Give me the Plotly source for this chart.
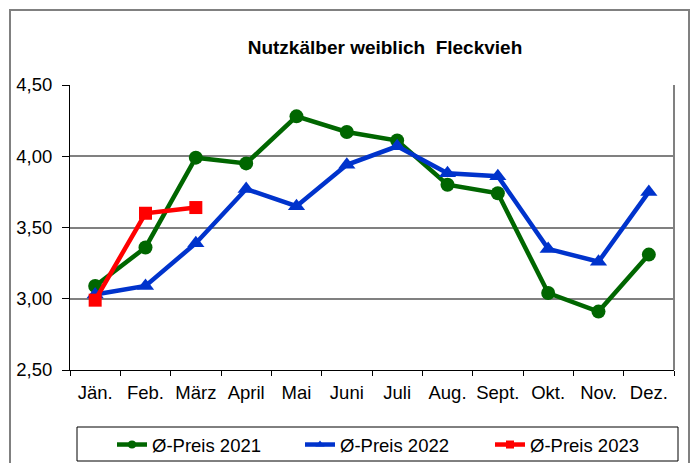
import plotly.graph_objects as go

months = ["Jän.", "Feb.", "März", "April", "Mai", "Juni", "Juli", "Aug.", "Sept.", "Okt.", "Nov.", "Dez."]
preis_2021 = [3.09, 3.36, 3.99, 3.95, 4.28, 4.17, 4.11, 3.80, 3.74, 3.04, 2.91, 3.31]
preis_2022 = [3.03, 3.09, 3.39, 3.77, 3.65, 3.94, 4.07, 3.88, 3.86, 3.35, 3.26, 3.75]
preis_2023 = [2.99, 3.60, 3.64]

FONT = "Liberation Sans, Arial, sans-serif"

# plot area in pixels: x 70..674, y 85..370
PL, PR, PT, PB = 70, 674, 85, 370
def px(x):
    return (x - PL) / (PR - PL)
def py(y):
    return (PB - y) / (PB - PT)

series = [
    ("Ø-Preis 2021", months, preis_2021, "#006600", "circle", 14, "legend"),
    ("Ø-Preis 2022", months, preis_2022, "#0033CC", "triangle-up", 15, "legend2"),
    ("Ø-Preis 2023", months[:len(preis_2023)], preis_2023, "#FF0000", "square", 13, "legend3"),
]

fig = go.Figure()
for name, xs, ys, col, sym, size, lg in series:
    fig.add_trace(go.Scatter(x=xs, y=ys, name=name, mode="lines+markers",
                             line=dict(color=col, width=4.5),
                             marker=dict(symbol=sym, size=size, color=col),
                             showlegend=False, hoverinfo="x+y+name"))
    # legend entry with the small marker style of the original
    fig.add_trace(go.Scatter(x=[None], y=[None], name=name, mode="lines+markers",
                             line=dict(color=col, width=4.5),
                             marker=dict(symbol=sym, size=8, color=col),
                             showlegend=True, legend=lg))

def leg(left):
    return dict(orientation="h", x=px(left), xanchor="left", y=py(445), yanchor="middle",
                borderwidth=0, bgcolor="rgba(0,0,0,0)", font=dict(family=FONT, size=18.5),
                itemwidth=30)

fig.update_layout(
    width=691, height=463,
    margin=dict(l=PL, r=691 - PR, t=PT, b=463 - PB, autoexpand=False),
    paper_bgcolor="white", plot_bgcolor="white",
    separators=",.",
    font=dict(family=FONT, size=18, color="black"),
    title=dict(text="<b>Nutzkälber weiblich  Fleckvieh</b>", x=385 / 691, xanchor="center",
               y=1 - 47 / 463, yanchor="middle", yref="container",
               font=dict(family=FONT, size=19, color="black")),
    showlegend=True,
    legend=leg(112),
    legend2=leg(300),
    legend3=leg(490),
    xaxis=dict(type="category", showline=True, linecolor="black", linewidth=1,
               ticks="outside", ticklen=5, tickcolor="black", tickson="boundaries",
               tickangle=0, showgrid=False, tickfont=dict(size=18.5), ticklabelstandoff=6,
               range=[-0.5, 11.5], automargin=False),
    yaxis=dict(range=[2.5, 4.5], dtick=0.5, tickformat=".2f", showline=True, linecolor="black",
               linewidth=1, ticks="outside", ticklen=7, tickcolor="black", ticklabelstandoff=6,
               showgrid=True, gridcolor="#808080", gridwidth=1.5, zeroline=False,
               tickfont=dict(size=18.5), automargin=False),
)

# black reference line at 3,00
fig.add_hline(y=3.0, line=dict(color="black", width=1), layer="below")
# plot area right border
fig.add_shape(type="line", xref="paper", yref="paper", x0=1, x1=1, y0=0, y1=1,
              line=dict(color="#808080", width=2))
# legend frame
fig.add_shape(type="rect", xref="paper", yref="paper",
              x0=px(77), x1=px(678), y0=py(461), y1=py(427),
              line=dict(color="black", width=1), fillcolor="rgba(0,0,0,0)", layer="below")
# outer chart border
fig.add_shape(type="rect", xref="paper", yref="paper",
              x0=px(10), x1=px(689), y0=py(480), y1=py(10),
              line=dict(color="#808080", width=2), fillcolor="rgba(0,0,0,0)", layer="below")

fig.write_html("out.html", config={"displayModeBar": False},
               post_script="document.body.style.margin='0';")
